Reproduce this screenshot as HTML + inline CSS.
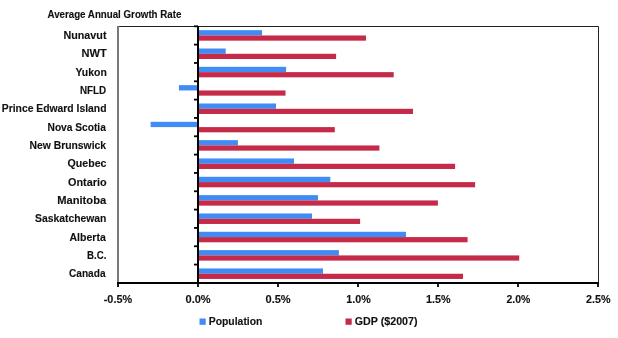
<!DOCTYPE html><html><head><meta charset="utf-8"><style>html,body{margin:0;padding:0;background:#fff;width:618px;height:338px;overflow:hidden}svg{display:block;will-change:transform}text{font-family:"Liberation Sans",sans-serif;font-weight:bold;fill:#111;stroke:#111;stroke-width:0.12px}</style></head><body>
<svg width="618" height="338" viewBox="0 0 618 338">
<rect x="198.0" y="30.17" width="64.10" height="5.30" fill="#408cf4"/>
<rect x="198.0" y="35.47" width="168.00" height="5.20" fill="#c52a49"/>
<rect x="198.0" y="48.50" width="27.70" height="5.30" fill="#408cf4"/>
<rect x="198.0" y="53.80" width="138.10" height="5.20" fill="#c52a49"/>
<rect x="198.0" y="66.83" width="88.10" height="5.30" fill="#408cf4"/>
<rect x="198.0" y="72.12" width="195.70" height="5.20" fill="#c52a49"/>
<rect x="178.90" y="85.16" width="19.10" height="5.30" fill="#408cf4"/>
<rect x="198.0" y="90.45" width="87.50" height="5.20" fill="#c52a49"/>
<rect x="198.0" y="103.48" width="78.00" height="5.30" fill="#408cf4"/>
<rect x="198.0" y="108.78" width="215.00" height="5.20" fill="#c52a49"/>
<rect x="150.65" y="121.81" width="47.35" height="5.30" fill="#408cf4"/>
<rect x="198.0" y="127.11" width="136.80" height="5.20" fill="#c52a49"/>
<rect x="198.0" y="140.14" width="39.90" height="5.30" fill="#408cf4"/>
<rect x="198.0" y="145.44" width="181.40" height="5.20" fill="#c52a49"/>
<rect x="198.0" y="158.47" width="96.00" height="5.30" fill="#408cf4"/>
<rect x="198.0" y="163.78" width="257.10" height="5.20" fill="#c52a49"/>
<rect x="198.0" y="176.80" width="132.30" height="5.30" fill="#408cf4"/>
<rect x="198.0" y="182.10" width="277.10" height="5.20" fill="#c52a49"/>
<rect x="198.0" y="195.13" width="120.00" height="5.30" fill="#408cf4"/>
<rect x="198.0" y="200.44" width="239.90" height="5.20" fill="#c52a49"/>
<rect x="198.0" y="213.46" width="114.00" height="5.30" fill="#408cf4"/>
<rect x="198.0" y="218.76" width="162.10" height="5.20" fill="#c52a49"/>
<rect x="198.0" y="231.79" width="208.00" height="5.30" fill="#408cf4"/>
<rect x="198.0" y="237.09" width="269.60" height="5.20" fill="#c52a49"/>
<rect x="198.0" y="250.12" width="140.90" height="5.30" fill="#408cf4"/>
<rect x="198.0" y="255.42" width="321.20" height="5.20" fill="#c52a49"/>
<rect x="198.0" y="268.45" width="125.00" height="5.30" fill="#408cf4"/>
<rect x="198.0" y="273.75" width="265.00" height="5.20" fill="#c52a49"/>
<path d="M118,26.5H598.5V283" fill="none" stroke="#222" stroke-width="1"/>
<line x1="118" y1="26" x2="118" y2="283" stroke="#78787c" stroke-width="2"/>
<line x1="198.0" y1="26" x2="198.0" y2="284" stroke="#000" stroke-width="2"/>
<line x1="117" y1="283" x2="599" y2="283" stroke="#000" stroke-width="1.8"/>
<line x1="194" y1="26.30" x2="198.0" y2="26.30" stroke="#000" stroke-width="1.8"/>
<line x1="194" y1="44.63" x2="198.0" y2="44.63" stroke="#000" stroke-width="1.8"/>
<line x1="194" y1="62.96" x2="198.0" y2="62.96" stroke="#000" stroke-width="1.8"/>
<line x1="194" y1="81.29" x2="198.0" y2="81.29" stroke="#000" stroke-width="1.8"/>
<line x1="194" y1="99.62" x2="198.0" y2="99.62" stroke="#000" stroke-width="1.8"/>
<line x1="194" y1="117.95" x2="198.0" y2="117.95" stroke="#000" stroke-width="1.8"/>
<line x1="194" y1="136.28" x2="198.0" y2="136.28" stroke="#000" stroke-width="1.8"/>
<line x1="194" y1="154.61" x2="198.0" y2="154.61" stroke="#000" stroke-width="1.8"/>
<line x1="194" y1="172.94" x2="198.0" y2="172.94" stroke="#000" stroke-width="1.8"/>
<line x1="194" y1="191.27" x2="198.0" y2="191.27" stroke="#000" stroke-width="1.8"/>
<line x1="194" y1="209.60" x2="198.0" y2="209.60" stroke="#000" stroke-width="1.8"/>
<line x1="194" y1="227.93" x2="198.0" y2="227.93" stroke="#000" stroke-width="1.8"/>
<line x1="194" y1="246.26" x2="198.0" y2="246.26" stroke="#000" stroke-width="1.8"/>
<line x1="194" y1="264.59" x2="198.0" y2="264.59" stroke="#000" stroke-width="1.8"/>
<line x1="194" y1="282.92" x2="198.0" y2="282.92" stroke="#000" stroke-width="1.8"/>
<line x1="118" y1="283" x2="118" y2="287" stroke="#000" stroke-width="1.8"/>
<line x1="198" y1="283" x2="198" y2="287" stroke="#000" stroke-width="1.8"/>
<line x1="278" y1="283" x2="278" y2="287" stroke="#000" stroke-width="1.8"/>
<line x1="358" y1="283" x2="358" y2="287" stroke="#000" stroke-width="1.8"/>
<line x1="438" y1="283" x2="438" y2="287" stroke="#000" stroke-width="1.8"/>
<line x1="518" y1="283" x2="518" y2="287" stroke="#000" stroke-width="1.8"/>
<line x1="598" y1="283" x2="598" y2="287" stroke="#000" stroke-width="1.8"/>
<text x="47.50" y="17.80" font-size="9.6" textLength="133.88" lengthAdjust="spacingAndGlyphs" transform="translate(0,17.80) scale(1,1.05) translate(0,-17.80)">Average Annual Growth Rate</text>
<text x="63.49" y="39.20" font-size="10.6" textLength="42.98" lengthAdjust="spacingAndGlyphs" transform="translate(0,39.20) scale(1,1.07) translate(0,-39.20)">Nunavut</text>
<text x="81.48" y="57.10" font-size="10.6" textLength="25.20" lengthAdjust="spacingAndGlyphs" transform="translate(0,57.10) scale(1,1.07) translate(0,-57.10)">NWT</text>
<text x="75.50" y="76.20" font-size="10.6" textLength="31.33" lengthAdjust="spacingAndGlyphs" transform="translate(0,76.20) scale(1,1.07) translate(0,-76.20)">Yukon</text>
<text x="80.04" y="94.10" font-size="10.6" textLength="26.17" lengthAdjust="spacingAndGlyphs" transform="translate(0,94.10) scale(1,1.07) translate(0,-94.10)">NFLD</text>
<text x="1.76" y="111.90" font-size="10.6" textLength="104.76" lengthAdjust="spacingAndGlyphs" transform="translate(0,111.90) scale(1,1.07) translate(0,-111.90)">Prince Edward Island</text>
<text x="47.52" y="130.90" font-size="10.6" textLength="58.37" lengthAdjust="spacingAndGlyphs" transform="translate(0,130.90) scale(1,1.07) translate(0,-130.90)">Nova Scotia</text>
<text x="29.51" y="149.20" font-size="10.6" textLength="76.53" lengthAdjust="spacingAndGlyphs" transform="translate(0,149.20) scale(1,1.07) translate(0,-149.20)">New Brunswick</text>
<text x="67.50" y="167.30" font-size="10.6" textLength="38.95" lengthAdjust="spacingAndGlyphs" transform="translate(0,167.30) scale(1,1.07) translate(0,-167.30)">Quebec</text>
<text x="67.99" y="186.00" font-size="10.6" textLength="38.54" lengthAdjust="spacingAndGlyphs" transform="translate(0,186.00) scale(1,1.07) translate(0,-186.00)">Ontario</text>
<text x="57.22" y="204.10" font-size="10.6" textLength="48.95" lengthAdjust="spacingAndGlyphs" transform="translate(0,204.10) scale(1,1.07) translate(0,-204.10)">Manitoba</text>
<text x="35.01" y="222.00" font-size="10.6" textLength="71.34" lengthAdjust="spacingAndGlyphs" transform="translate(0,222.00) scale(1,1.07) translate(0,-222.00)">Saskatchewan</text>
<text x="69.50" y="241.10" font-size="10.6" textLength="36.25" lengthAdjust="spacingAndGlyphs" transform="translate(0,241.10) scale(1,1.07) translate(0,-241.10)">Alberta</text>
<text x="87.04" y="259.50" font-size="10.6" textLength="19.28" lengthAdjust="spacingAndGlyphs" transform="translate(0,259.50) scale(1,1.07) translate(0,-259.50)">B.C.</text>
<text x="69.02" y="277.10" font-size="10.6" textLength="36.50" lengthAdjust="spacingAndGlyphs" transform="translate(0,277.10) scale(1,1.07) translate(0,-277.10)">Canada</text>
<text x="103.74" y="303.10" font-size="10.6" textLength="28.34" lengthAdjust="spacingAndGlyphs" transform="translate(0,303.10) scale(1,1.07) translate(0,-303.10)">-0.5%</text>
<text x="185.49" y="303.10" font-size="10.6" textLength="25.22" lengthAdjust="spacingAndGlyphs" transform="translate(0,303.10) scale(1,1.07) translate(0,-303.10)">0.0%</text>
<text x="265.49" y="303.10" font-size="10.6" textLength="25.18" lengthAdjust="spacingAndGlyphs" transform="translate(0,303.10) scale(1,1.07) translate(0,-303.10)">0.5%</text>
<text x="346.24" y="303.10" font-size="10.6" textLength="24.47" lengthAdjust="spacingAndGlyphs" transform="translate(0,303.10) scale(1,1.07) translate(0,-303.10)">1.0%</text>
<text x="425.99" y="303.10" font-size="10.6" textLength="24.52" lengthAdjust="spacingAndGlyphs" transform="translate(0,303.10) scale(1,1.07) translate(0,-303.10)">1.5%</text>
<text x="506.50" y="303.10" font-size="10.6" textLength="23.85" lengthAdjust="spacingAndGlyphs" transform="translate(0,303.10) scale(1,1.07) translate(0,-303.10)">2.0%</text>
<text x="585.99" y="303.10" font-size="10.6" textLength="24.52" lengthAdjust="spacingAndGlyphs" transform="translate(0,303.10) scale(1,1.07) translate(0,-303.10)">2.5%</text>
<text x="208.76" y="324.70" font-size="10.6" textLength="53.66" lengthAdjust="spacingAndGlyphs" transform="translate(0,324.70) scale(1,1.07) translate(0,-324.70)">Population</text>
<text x="354.75" y="324.70" font-size="10.6" textLength="62.78" lengthAdjust="spacingAndGlyphs" transform="translate(0,324.70) scale(1,1.07) translate(0,-324.70)">GDP ($2007)</text>
<rect x="199.5" y="318.5" width="6.2" height="6.3" fill="#408cf4"/>
<rect x="345.5" y="318.5" width="6.2" height="6.3" fill="#c52a49"/>
</svg></body></html>
